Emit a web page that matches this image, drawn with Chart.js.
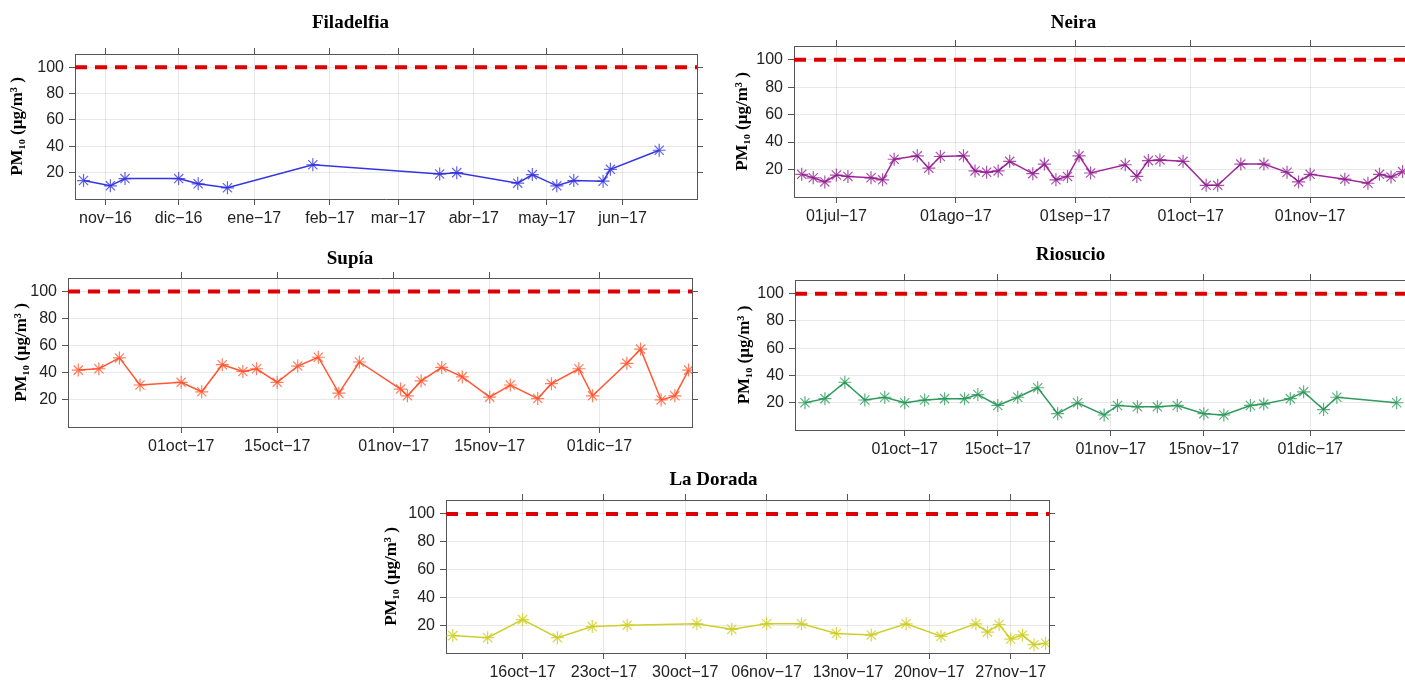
<!DOCTYPE html>
<html lang="es">
<head>
<meta charset="utf-8">
<title>PM10 Caldas</title>
<script src="https://cdn.jsdelivr.net/npm/chart.js"></script>
<style>
    html, body { margin: 0; padding: 0; background: #fff; overflow: hidden; }
    body { width: 1405px; height: 685px; position: relative; }
    canvas { position: absolute; }
</style>
</head>
<body>
<canvas id="filadelfia"></canvas>
<canvas id="neira"></canvas>
<canvas id="supia"></canvas>
<canvas id="riosucio"></canvas>
<canvas id="laDorada"></canvas>
<script>
// common axis values
const yTicks = [20, 40, 60, 80, 100];
const yRange = [0, 110];
const limitPM10 = 100;
const yTitle = 'PM\u2081\u2080 (\u00b5g/m\u00b3 )';

// Filadelfia
const filadelfiaDates = ['2016-10-23', '2016-11-03', '2016-11-09', '2016-12-01', '2016-12-09', '2016-12-21',
    '2017-01-25', '2017-03-18', '2017-03-25', '2017-04-19', '2017-04-25', '2017-05-05', '2017-05-12',
    '2017-05-24', '2017-05-27', '2017-06-16'];
const filadelfiaPM10 = [14, 10, 15.5, 15.5, 11.5, 8.5, 26, 19, 20, 12, 18.5, 10, 14, 13.5, 22.5, 37];
const filadelfiaRange = ['2016-10-19T12', '2017-07-01T12'];
const filadelfiaTicks = ['2016-11-01', '2016-12-01', '2017-01-01', '2017-02-01', '2017-03-01', '2017-04-01', '2017-05-01', '2017-06-01'];
const filadelfiaTickLabels = ['nov\u221216', 'dic\u221216', 'ene\u221217', 'feb\u221217', 'mar\u221217', 'abr\u221217', 'may\u221217', 'jun\u221217'];

// Neira
const neiraDates = ['2017-06-22', '2017-06-25', '2017-06-28', '2017-07-01', '2017-07-04', '2017-07-10', '2017-07-13',
    '2017-07-16', '2017-07-22', '2017-07-25', '2017-07-28', '2017-08-03', '2017-08-06', '2017-08-09', '2017-08-12',
    '2017-08-15', '2017-08-21', '2017-08-24', '2017-08-27', '2017-08-30', '2017-09-02', '2017-09-05', '2017-09-14',
    '2017-09-17', '2017-09-20', '2017-09-23', '2017-09-29', '2017-10-05', '2017-10-08', '2017-10-14', '2017-10-20',
    '2017-10-26', '2017-10-29', '2017-11-01', '2017-11-10', '2017-11-16', '2017-11-19', '2017-11-22', '2017-11-25'];
const neiraPM10 = [16.5, 14, 11, 16, 15, 14, 12.5, 27.5, 30, 21, 29.5, 30, 19, 18, 19, 26, 17, 24, 12.5, 15, 30,
    17.5, 23.5, 15, 26.5, 27, 26, 8.5, 8.5, 24, 24, 18, 11, 16.5, 13, 10, 16.5, 14.5, 18.5];
const neiraRange = ['2017-06-20', '2017-11-29'];
const neiraTicks = ['2017-07-01', '2017-08-01', '2017-09-01', '2017-10-01', '2017-11-01'];
const neiraTickLabels = ['01jul\u221217', '01ago\u221217', '01sep\u221217', '01oct\u221217', '01nov\u221217'];

// Supía
const supiaDates = ['2017-09-16', '2017-09-19', '2017-09-22', '2017-09-25', '2017-10-01', '2017-10-04', '2017-10-07',
    '2017-10-10', '2017-10-12', '2017-10-15', '2017-10-18', '2017-10-21', '2017-10-24', '2017-10-27', '2017-11-02',
    '2017-11-03', '2017-11-05', '2017-11-08', '2017-11-11', '2017-11-15', '2017-11-18', '2017-11-22', '2017-11-24',
    '2017-11-28', '2017-11-30', '2017-12-05', '2017-12-07', '2017-12-10', '2017-12-12', '2017-12-14'];
const supiaPM10 = [42, 43, 51, 31, 33, 26, 46, 41, 43, 33, 45, 51.5, 25, 48, 28, 23, 34, 44, 37, 22, 31, 21, 32,
    43, 23, 47, 57.5, 20, 23, 42];
const supiaRange = ['2017-09-14T12', '2017-12-14T12'];

// Riosucio
const riosucioDates = ['2017-09-16', '2017-09-19', '2017-09-22', '2017-09-25', '2017-09-28', '2017-10-01', '2017-10-04',
    '2017-10-07', '2017-10-10', '2017-10-12', '2017-10-15', '2017-10-18', '2017-10-21', '2017-10-24', '2017-10-27',
    '2017-10-31', '2017-11-02', '2017-11-05', '2017-11-08', '2017-11-11', '2017-11-15', '2017-11-18', '2017-11-22',
    '2017-11-24', '2017-11-28', '2017-11-30', '2017-12-03', '2017-12-05', '2017-12-14'];
const riosucioPM10 = [20, 23, 35, 22, 24, 20, 22, 23, 23, 26, 18, 24, 31, 12, 20, 11, 18, 17, 17, 18, 12, 11, 18,
    19, 23, 28, 15, 24, 20];
const riosucioRange = ['2017-09-14T12', '2017-12-16'];

const octDicTicks = ['2017-10-01', '2017-10-15', '2017-11-01', '2017-11-15', '2017-12-01'];
const octDicTickLabels = ['01oct\u221217', '15oct\u221217', '01nov\u221217', '15nov\u221217', '01dic\u221217'];

// La Dorada
const laDoradaDates = ['2017-10-10', '2017-10-13', '2017-10-16', '2017-10-19', '2017-10-22', '2017-10-25', '2017-10-31',
    '2017-11-03', '2017-11-06', '2017-11-09', '2017-11-12', '2017-11-15', '2017-11-18', '2017-11-21', '2017-11-24',
    '2017-11-25', '2017-11-26', '2017-11-27', '2017-11-28', '2017-11-29', '2017-11-30'];
const laDoradaPM10 = [12.5, 11, 24, 11, 19, 20, 21, 17, 21, 21, 14, 13, 21, 12, 21, 15, 20.5, 10, 13, 6, 7];
const laDoradaRange = ['2017-10-09T10', '2017-11-30T07'];
const laDoradaTicks = ['2017-10-16', '2017-10-23', '2017-10-30', '2017-11-06', '2017-11-13', '2017-11-20', '2017-11-27'];
const laDoradaTickLabels = ['16oct\u221217', '23oct\u221217', '30oct\u221217', '06nov\u221217', '13nov\u221217', '20nov\u221217', '27nov\u221217'];

const axisColor = '#555';
const gridColor = 'rgba(0, 0, 0, 0.09)';

function toDays(s) {
    const [date, hour] = s.split('T');
    const [y, m, d] = date.split('-').map(Number);
    return Date.UTC(y, m - 1, d) / 86400000 + (hour ? Number(hour) / 24 : 0);
}

function drawPanel(id, series, layout) {
    const canvas = document.getElementById(id);
    const left = layout.yLabelX - 22;
    const top = layout.titleY - 22;
    const width = 2 * (layout.titleX - left);
    const height = layout.box.bottom - top + 30;
    canvas.width = width;
    canvas.height = height;
    canvas.style.left = left + 'px';
    canvas.style.top = top + 'px';

    const yWidth = layout.box.left - left;
    const rightPad = left + width - layout.box.right - 8;
    const titleSize = 19;
    const titlePadTop = 22 - titleSize / 2;
    const titlePadBottom = Math.max(0, layout.box.top - top - titlePadTop - titleSize - 8);

    const xMin = toDays(series.range[0]);
    const xMax = toDays(series.range[1]);
    const tickDays = series.tickDates.map(toDays);
    const setXTicks = axis => { axis.ticks = tickDays.map(v => ({ value: v })); };
    const setYTicks = axis => { axis.ticks = yTicks.map(v => ({ value: v })); };

    new Chart(canvas.getContext('2d'), {
        type: 'line',
        data: {
            datasets: [{
                label: 'Norma',
                data: [{ x: xMin, y: limitPM10 }, { x: xMax, y: limitPM10 }],
                borderColor: '#dd0000',
                borderWidth: 4,
                borderDash: [12, 8],
                pointRadius: 0
            }, {
                label: series.title,
                data: series.dates.map((d, i) => ({ x: toDays(d), y: series.values[i] })),
                borderColor: series.color,
                borderWidth: 1.5,
                tension: 0,
                pointStyle: 'star',
                pointRadius: 6.5,
                pointBorderWidth: 1.2,
                pointBorderColor: series.markerColor,
                pointBackgroundColor: 'transparent'
            }]
        },
        options: {
            responsive: false,
            animation: false,
            devicePixelRatio: 1,
            layout: { padding: { left: 0, right: rightPad, top: 0, bottom: 0 } },
            plugins: {
                legend: { display: false },
                tooltip: { enabled: false },
                title: {
                    display: true,
                    text: series.title,
                    color: '#000',
                    font: { family: 'Liberation Serif', size: titleSize, weight: 'bold', lineHeight: 1 },
                    padding: { top: titlePadTop, bottom: titlePadBottom }
                }
            },
            scales: {
                x: {
                    type: 'linear',
                    position: 'bottom',
                    min: xMin,
                    max: xMax,
                    afterBuildTicks: setXTicks,
                    afterFit: axis => { axis.height = 30; },
                    ticks: {
                        autoSkip: false,
                        maxRotation: 0,
                        padding: 4,
                        color: '#222',
                        font: { family: 'Liberation Sans', size: 16 },
                        callback: (value, index) => series.tickLabels[index]
                    },
                    grid: { color: gridColor, tickColor: axisColor, tickLength: 6 },
                    border: { color: axisColor }
                },
                xTop: {
                    type: 'linear',
                    position: 'top',
                    min: xMin,
                    max: xMax,
                    afterBuildTicks: setXTicks,
                    afterFit: axis => { axis.height = 8; },
                    ticks: { display: false },
                    grid: { drawOnChartArea: false, tickColor: axisColor, tickLength: 6 },
                    border: { color: axisColor }
                },
                y: {
                    position: 'left',
                    min: yRange[0],
                    max: yRange[1],
                    afterBuildTicks: setYTicks,
                    afterFit: axis => { axis.width = yWidth; },
                    ticks: {
                        padding: 5,
                        color: '#222',
                        font: { family: 'Liberation Sans', size: 16 }
                    },
                    grid: { color: gridColor, tickColor: axisColor, tickLength: 6 },
                    border: { color: axisColor },
                    title: {
                        display: true,
                        text: yTitle,
                        color: '#000',
                        font: { family: 'Liberation Serif', size: 17, weight: 'bold', lineHeight: 1.2 },
                        padding: { top: 22 - 10.2, bottom: 0 }
                    }
                },
                yRight: {
                    position: 'right',
                    min: yRange[0],
                    max: yRange[1],
                    afterBuildTicks: setYTicks,
                    afterFit: axis => { axis.width = 8; },
                    ticks: { display: false },
                    grid: { drawOnChartArea: false, tickColor: axisColor, tickLength: 6 },
                    border: { color: axisColor }
                }
            }
        }
    });
}

drawPanel('filadelfia', {
    title: 'Filadelfia', dates: filadelfiaDates, values: filadelfiaPM10, range: filadelfiaRange,
    tickDates: filadelfiaTicks, tickLabels: filadelfiaTickLabels,
    color: '#3535e0', markerColor: 'rgba(45, 45, 220, 0.75)'
}, { box: { left: 75, top: 54, right: 697, bottom: 199 }, titleX: 363, titleY: 23, yLabelX: 18 });

drawPanel('neira', {
    title: 'Neira', dates: neiraDates, values: neiraPM10, range: neiraRange,
    tickDates: neiraTicks, tickLabels: neiraTickLabels,
    color: '#a0289c', markerColor: 'rgba(140, 25, 140, 0.75)'
}, { box: { left: 794, top: 46, right: 1418, bottom: 197 }, titleX: 1086, titleY: 23, yLabelX: 743 });

drawPanel('supia', {
    title: 'Sup\u00eda', dates: supiaDates, values: supiaPM10, range: supiaRange,
    tickDates: octDicTicks, tickLabels: octDicTickLabels,
    color: '#ff5733', markerColor: 'rgba(255, 80, 40, 0.75)'
}, { box: { left: 68, top: 278, right: 692, bottom: 427 }, titleX: 367, titleY: 259, yLabelX: 22 });

drawPanel('riosucio', {
    title: 'Riosucio', dates: riosucioDates, values: riosucioPM10, range: riosucioRange,
    tickDates: octDicTicks, tickLabels: octDicTickLabels,
    color: '#2e9a5c', markerColor: 'rgba(40, 150, 85, 0.75)'
}, { box: { left: 795, top: 280, right: 1410, bottom: 430 }, titleX: 1086, titleY: 255, yLabelX: 745 });

drawPanel('laDorada', {
    title: 'La Dorada', dates: laDoradaDates, values: laDoradaPM10, range: laDoradaRange,
    tickDates: laDoradaTicks, tickLabels: laDoradaTickLabels,
    color: '#cfcf2a', markerColor: 'rgba(205, 205, 30, 0.8)'
}, { box: { left: 446, top: 500, right: 1049, bottom: 653 }, titleX: 730, titleY: 480, yLabelX: 392 });
</script>
</body>
</html>
